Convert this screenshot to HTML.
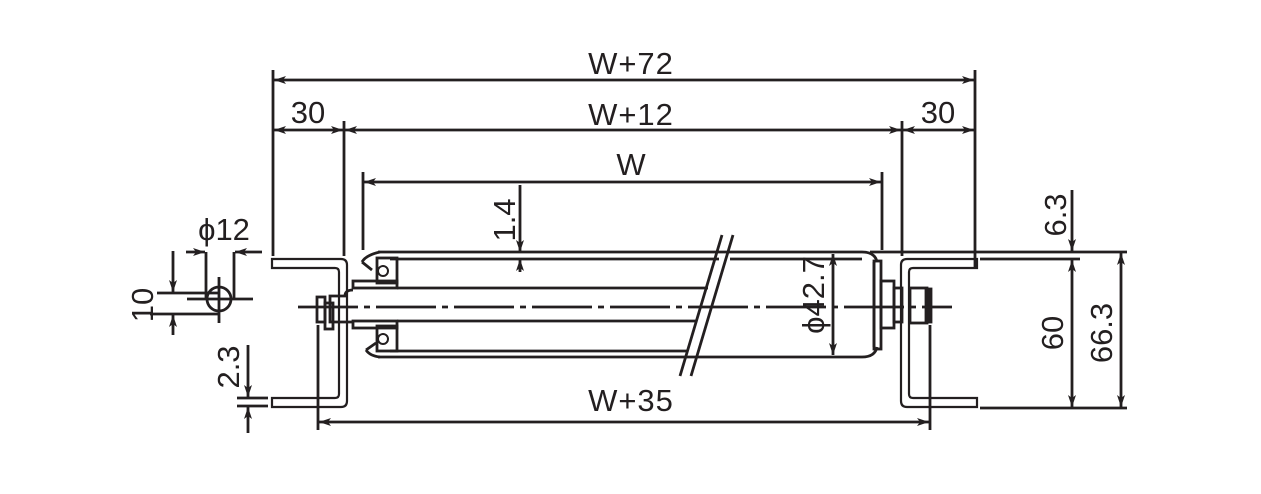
<!DOCTYPE html>
<html><head><meta charset="utf-8"><style>
html,body{margin:0;padding:0;background:#fff;}
svg{display:block;}
text{font-family:"Liberation Sans","Noto Sans CJK JP",sans-serif;fill:#231f20;}
</style></head><body>
<svg width="1261" height="494" viewBox="0 0 1261 494" xmlns="http://www.w3.org/2000/svg">
<defs>
<marker id="a" viewBox="0 0 12 8" refX="12" refY="4" markerWidth="12" markerHeight="8" markerUnits="userSpaceOnUse" orient="auto-start-reverse"><path d="M0,0 L12,4 L0,8 L3,4 Z" fill="#231f20"/></marker>
</defs>
<g stroke="#231f20" fill="none" stroke-width="2.8">
<line x1="273" y1="70" x2="273" y2="256"/>
<line x1="975" y1="70" x2="975" y2="268"/>
<line x1="344" y1="121" x2="344" y2="256"/>
<line x1="902" y1="121" x2="902" y2="256"/>
<line x1="363" y1="172" x2="363" y2="250"/>
<line x1="882" y1="172" x2="882" y2="250"/>
<line x1="274" y1="80" x2="974" y2="80" marker-start="url(#a)" marker-end="url(#a)"/>
<line x1="274" y1="130" x2="343" y2="130" marker-start="url(#a)" marker-end="url(#a)"/>
<line x1="345" y1="130" x2="901" y2="130" marker-start="url(#a)" marker-end="url(#a)"/>
<line x1="903" y1="130" x2="974" y2="130" marker-start="url(#a)" marker-end="url(#a)"/>
<line x1="364" y1="182" x2="881" y2="182" marker-start="url(#a)" marker-end="url(#a)"/>
<line x1="520" y1="185" x2="520" y2="252" marker-end="url(#a)"/>
<line x1="520" y1="272" x2="520" y2="259" marker-end="url(#a)"/>
<line x1="318" y1="325" x2="318" y2="430"/>
<line x1="930" y1="325" x2="930" y2="430"/>
<line x1="319" y1="422" x2="929" y2="422" marker-start="url(#a)" marker-end="url(#a)"/>
<path d="M272,259 H341 Q347,259 347,265 V401 Q347,407 341,407 H272 V398 H335 Q339,398 339,394 V272 Q339,268 335,268 H272 Z" stroke-width="2.2"/>
<path d="M977,259 H907 Q901,259 901,265 V401 Q901,407 907,407 H977 V398 H913 Q909,398 909,394 V272 Q909,268 913,268 H977 Z" stroke-width="2.2"/>
<path d="M378,252 H862 Q875,252 877,262" />
<path d="M877,347 Q875,357 862,357 H378"/>
<line x1="390" y1="259" x2="719" y2="259"/>
<line x1="730" y1="259" x2="862" y2="259"/>
<line x1="397" y1="288" x2="708" y2="288"/>
<line x1="397" y1="321" x2="697" y2="321"/>
<line x1="390" y1="351" x2="688" y2="351"/>
<line x1="874" y1="262" x2="874" y2="347"/>
<rect x="874" y="261" width="7" height="88"/>
<rect x="881" y="281" width="13" height="47"/>
<rect x="894" y="288" width="8" height="34"/>
<rect x="910" y="288" width="17" height="35"/>
<rect x="926" y="289" width="5" height="33" fill="#231f20"/>
<line x1="722" y1="235" x2="680" y2="376"/>
<line x1="733" y1="235" x2="691" y2="376"/>
<path d="M362,262 Q366,255 380,252 M362,262 L372,270 M366,350 L376,343 M366,350 Q370,356 380,357"/>
<rect x="377" y="258" width="20" height="25"/>
<circle cx="383" cy="271" r="5" stroke-width="2"/>
<rect x="377" y="326" width="20" height="25"/>
<circle cx="383" cy="339" r="5" stroke-width="2"/>
<rect x="353" y="281" width="44" height="7"/>
<rect x="353" y="321" width="44" height="7"/>
<path d="M353,290 Q345,290 345,296 H330 V322 H353"/>
<rect x="317" y="297" width="8" height="25"/>
<rect x="325" y="303" width="8" height="26"/>
<line x1="298" y1="307" x2="952" y2="307" stroke-dasharray="60 6 6 6"/>
<line x1="186" y1="252" x2="205" y2="252" marker-end="url(#a)"/>
<line x1="262" y1="252" x2="235" y2="252" marker-end="url(#a)"/>
<line x1="206" y1="252" x2="206" y2="300"/>
<line x1="234" y1="252" x2="234" y2="300"/>
<circle cx="219" cy="299" r="12"/>
<line x1="219" y1="277" x2="219" y2="323"/>
<line x1="187" y1="299" x2="253" y2="299"/>
<line x1="157" y1="293" x2="218" y2="293"/>
<line x1="150" y1="314" x2="219" y2="314"/>
<line x1="173" y1="251" x2="173" y2="292" marker-end="url(#a)"/>
<line x1="173" y1="335" x2="173" y2="315" marker-end="url(#a)"/>
<line x1="237" y1="398" x2="268" y2="398"/>
<line x1="237" y1="406" x2="268" y2="406"/>
<line x1="248" y1="345" x2="248" y2="397" marker-end="url(#a)"/>
<line x1="248" y1="433" x2="248" y2="407" marker-end="url(#a)"/>
<line x1="833" y1="254" x2="833" y2="355" marker-start="url(#a)" marker-end="url(#a)"/>
<line x1="870" y1="252" x2="1127" y2="252"/>
<line x1="980" y1="259" x2="1080" y2="259"/>
<line x1="980" y1="408" x2="1127" y2="408"/>
<line x1="1072" y1="190" x2="1072" y2="251" marker-end="url(#a)"/>
<line x1="1072" y1="260" x2="1072" y2="407" marker-start="url(#a)" marker-end="url(#a)"/>
<line x1="1121" y1="253" x2="1121" y2="407" marker-start="url(#a)" marker-end="url(#a)"/>
</g>
<g font-size="31">
<text x="631" y="74" text-anchor="middle" letter-spacing="1">W+72</text>
<text x="308" y="123" text-anchor="middle">30</text>
<text x="631" y="125" text-anchor="middle" letter-spacing="1">W+12</text>
<text x="938" y="123" text-anchor="middle">30</text>
<text x="631" y="175" text-anchor="middle">W</text>
<text x="631" y="411" text-anchor="middle" letter-spacing="1">W+35</text>
<text x="224" y="240" text-anchor="middle">ϕ12</text>
<text transform="translate(153,305) rotate(-90)" text-anchor="middle">10</text>
<text transform="translate(239,367) rotate(-90)" text-anchor="middle">2.3</text>
<text transform="translate(515,220) rotate(-90)" text-anchor="middle">1.4</text>
<text transform="translate(824,295) rotate(-90)" text-anchor="middle">ϕ42.7</text>
<text transform="translate(1066,215) rotate(-90)" text-anchor="middle">6.3</text>
<text transform="translate(1063,333) rotate(-90)" text-anchor="middle">60</text>
<text transform="translate(1112,333) rotate(-90)" text-anchor="middle">66.3</text>
</g>
</svg>
</body></html>
